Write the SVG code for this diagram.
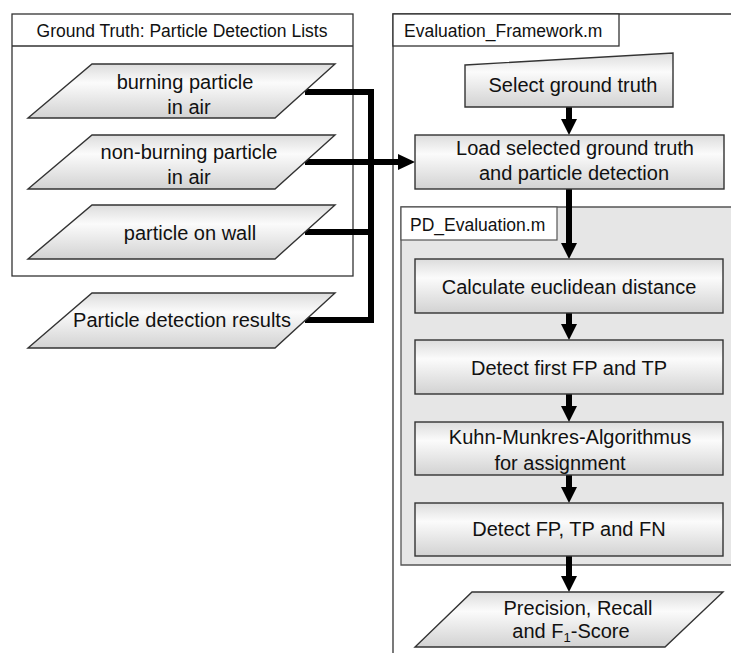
<svg xmlns="http://www.w3.org/2000/svg" width="731" height="653" viewBox="0 0 731 653">
<style>
text{font-family:"Liberation Sans",Arial,sans-serif;fill:#111;}
.t{font-size:20px;text-anchor:middle;}
.h{font-size:17.5px;}
.node{fill:url(#g);stroke:#333;stroke-width:1.4;}
.frame{fill:#fff;stroke:#333;stroke-width:1.3;}
.conn{fill:none;stroke:#000;stroke-width:6;}
</style>
<defs>
<linearGradient id="g" x1="0" y1="0" x2="0" y2="1">
<stop offset="0" stop-color="#dcdcdc"/>
<stop offset="0.35" stop-color="#fbfbfb"/>
<stop offset="1" stop-color="#d2d2d2"/>
</linearGradient>
</defs>

<g id="ground-truth-frame">
<rect class="frame" x="12" y="14" width="341" height="262"/>
<line x1="12" y1="46" x2="353" y2="46" stroke="#333" stroke-width="1.3"/>
<text class="h" x="182" y="37" text-anchor="middle">Ground Truth: Particle Detection Lists</text>
</g>

<g id="eval-frame">
<path d="M393,653 V14 H731" fill="#fff" stroke="#333" stroke-width="1.3"/>
<rect x="393" y="14" width="226" height="32" fill="#fff" stroke="#333" stroke-width="1.3"/>
<text class="h" x="404" y="37">Evaluation_Framework.m</text>
</g>

<g id="pd-frame">
<path d="M731,207 H401 V565 H731" fill="#e6e6e6" stroke="#555" stroke-width="1.3"/>
<rect x="401" y="207" width="156" height="33" fill="#fff" stroke="#555" stroke-width="1.2"/>
<text class="h" x="410" y="231">PD_Evaluation.m</text>
</g>

<g id="connectors">
<polyline class="conn" points="305,92 371,92 371,320 305,320"/>
<line class="conn" x1="305" y1="232" x2="371" y2="232"/>
<line class="conn" x1="305" y1="162" x2="400" y2="162"/>
<polygon points="398,154 415,162 398,170" fill="#000"/>
<line class="conn" x1="569" y1="107" x2="569" y2="120"/>
<polygon points="561,119 577,119 569,135" fill="#000"/>
<line class="conn" x1="569" y1="189" x2="569" y2="244"/>
<polygon points="561,243 577,243 569,259" fill="#000"/>
<line class="conn" x1="569" y1="313" x2="569" y2="325"/>
<polygon points="561,324 577,324 569,340" fill="#000"/>
<line class="conn" x1="569" y1="394" x2="569" y2="407"/>
<polygon points="561,406 577,406 569,422" fill="#000"/>
<line class="conn" x1="569" y1="475" x2="569" y2="488"/>
<polygon points="561,487 577,487 569,503" fill="#000"/>
<line class="conn" x1="569" y1="556" x2="569" y2="577"/>
<polygon points="561,576 577,576 569,592" fill="#000"/>
</g>

<g id="burning">
<polygon class="node" points="92,64 335,64 275,118 28,118"/>
<text class="t" x="185" y="89">burning particle</text>
<text class="t" x="189" y="114">in air</text>
</g>

<g id="non-burning">
<polygon class="node" points="92,135 335,135 275,189 28,189"/>
<text class="t" x="189" y="159">non-burning particle</text>
<text class="t" x="189" y="184">in air</text>
</g>

<g id="wall">
<polygon class="node" points="92,205 335,205 275,259 28,259"/>
<text class="t" x="190" y="240">particle on wall</text>
</g>

<g id="pd-results">
<polygon class="node" points="92,293 335,293 275,348 28,348"/>
<text class="t" x="182" y="327">Particle detection results</text>
</g>

<g id="select">
<polygon class="node" points="465,65 673,53 673,107 465,107"/>
<text class="t" x="573" y="92">Select ground truth</text>
</g>

<g id="load">
<rect class="node" x="415" y="135" width="309" height="54"/>
<text class="t" x="575" y="155">Load selected ground truth</text>
<text class="t" x="574" y="180">and particle detection</text>
</g>

<g id="calc">
<rect class="node" x="415" y="259" width="308" height="54"/>
<text class="t" x="569" y="294">Calculate euclidean distance</text>
</g>

<g id="first">
<rect class="node" x="415" y="340" width="308" height="54"/>
<text class="t" x="569" y="375">Detect first FP and TP</text>
</g>

<g id="kuhn">
<rect class="node" x="415" y="422" width="308" height="53"/>
<text class="t" x="570" y="444">Kuhn-Munkres-Algorithmus</text>
<text class="t" x="560" y="470">for assignment</text>
</g>

<g id="detect-all">
<rect class="node" x="415" y="503" width="308" height="53"/>
<text class="t" x="569" y="536">Detect FP, TP and FN</text>
</g>

<g id="metrics">
<polygon class="node" points="472,592 723,592 665,647 415,647"/>
<text class="t" x="578" y="615">Precision, Recall</text>
<text class="t" x="571" y="638">and F<tspan font-size="13" dy="4">1</tspan><tspan dy="-4">-Score</tspan></text>
</g>
</svg>
